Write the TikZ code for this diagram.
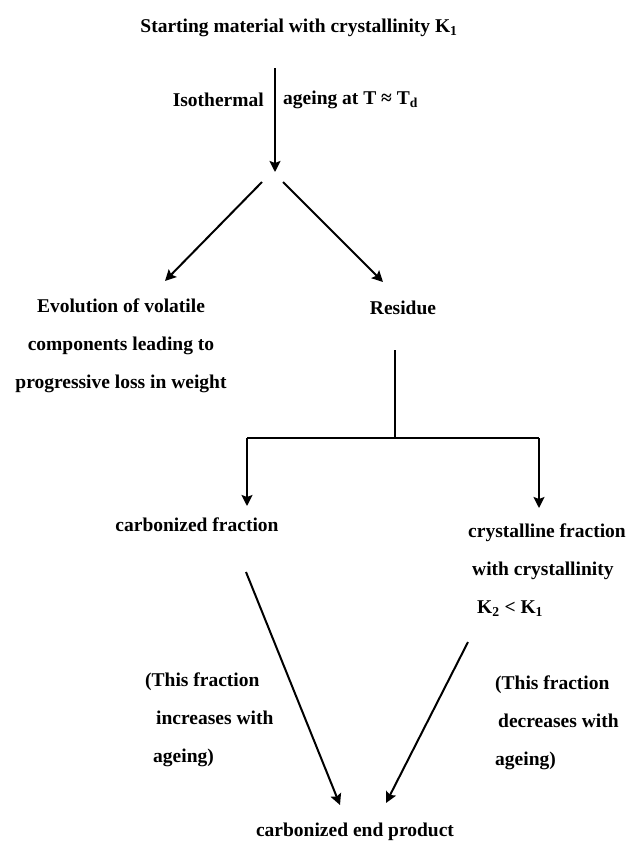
\documentclass[tikz,border=0pt]{standalone}
\usepackage{fontspec}
\setmainfont{Liberation Serif}
\usepackage{tikz}
\usetikzlibrary{arrows.meta}

\tikzset{
    lbl/.style={font=\fontsize{19.5}{38}\selectfont\bfseries, inner sep=0pt},
    arr/.style={line width=2pt, -{Stealth[length=11pt,width=11pt,inset=2pt]}},
    ln/.style={line width=2pt}
}

\begin{document}
\begin{tikzpicture}[x=1pt,y=-1pt]
    \useasboundingbox (0,0) rectangle (633,844);

    % Starting material and ageing step
    \node[lbl] (start) at (299,28) {Starting material with crystallinity K\textsubscript{1}};
    \coordinate (top) at (275,68);
    \coordinate (fork) at (275,172);
    \draw[arr] (top) -- (fork);
    \node[lbl, anchor=east] (iso) at (264,100) {Isothermal};
    \node[lbl, anchor=west] (age) at (283,100) {ageing at T ≈ T\textsubscript{d}};

    % First split
    \coordinate (forkl) at (262,182);
    \coordinate (forkr) at (283,182);
    \coordinate (tipevol) at (165,281);
    \coordinate (tipres) at (383,282);
    \draw[arr] (forkl) -- (tipevol);
    \draw[arr] (forkr) -- (tipres);
    \node[lbl, align=center] (evol) at (121,346)
        {Evolution of volatile\\components leading to\\progressive loss in weight};
    \node[lbl] (residue) at (403,308) {Residue};

    % Residue splits into two fractions
    \coordinate (resbot) at (395,350);
    \coordinate (bar) at (395,438);
    \coordinate (barl) at (247,438);
    \coordinate (barr) at (539,438);
    \coordinate (tipcarb) at (247,506);
    \coordinate (tipcryst) at (539,508);
    \draw[ln] (resbot) -- (bar);
    \draw[ln] (barl) -- (barr);
    \draw[arr] (barl) -- (tipcarb);
    \draw[arr] (barr) -- (tipcryst);
    \node[lbl] (carb) at (197,525) {carbonized fraction};
    \node[lbl, align=left, anchor=west] (cryst) at (468,570)
        {crystalline fraction\\\hspace*{4pt}with crystallinity\\\hspace*{9pt}K\textsubscript{2} < K\textsubscript{1}};

    % Both fractions end in the carbonized product
    \coordinate (carbbot) at (246,572);
    \coordinate (crystbot) at (468,642);
    \coordinate (tipendl) at (340,805);
    \coordinate (tipendr) at (386,803);
    \draw[arr] (carbbot) -- (tipendl);
    \draw[arr] (crystbot) -- (tipendr);
    \node[lbl, align=left, anchor=west] (incr) at (145,720)
        {(This fraction\\\hspace*{11pt}increases with\\\hspace*{8pt}ageing)};
    \node[lbl, align=left, anchor=west] (decr) at (495,723)
        {(This fraction\\\hspace*{3pt}decreases with\\ageing)};
    \node[lbl] (endprod) at (355,832) {carbonized end product};
\end{tikzpicture}
\end{document}
